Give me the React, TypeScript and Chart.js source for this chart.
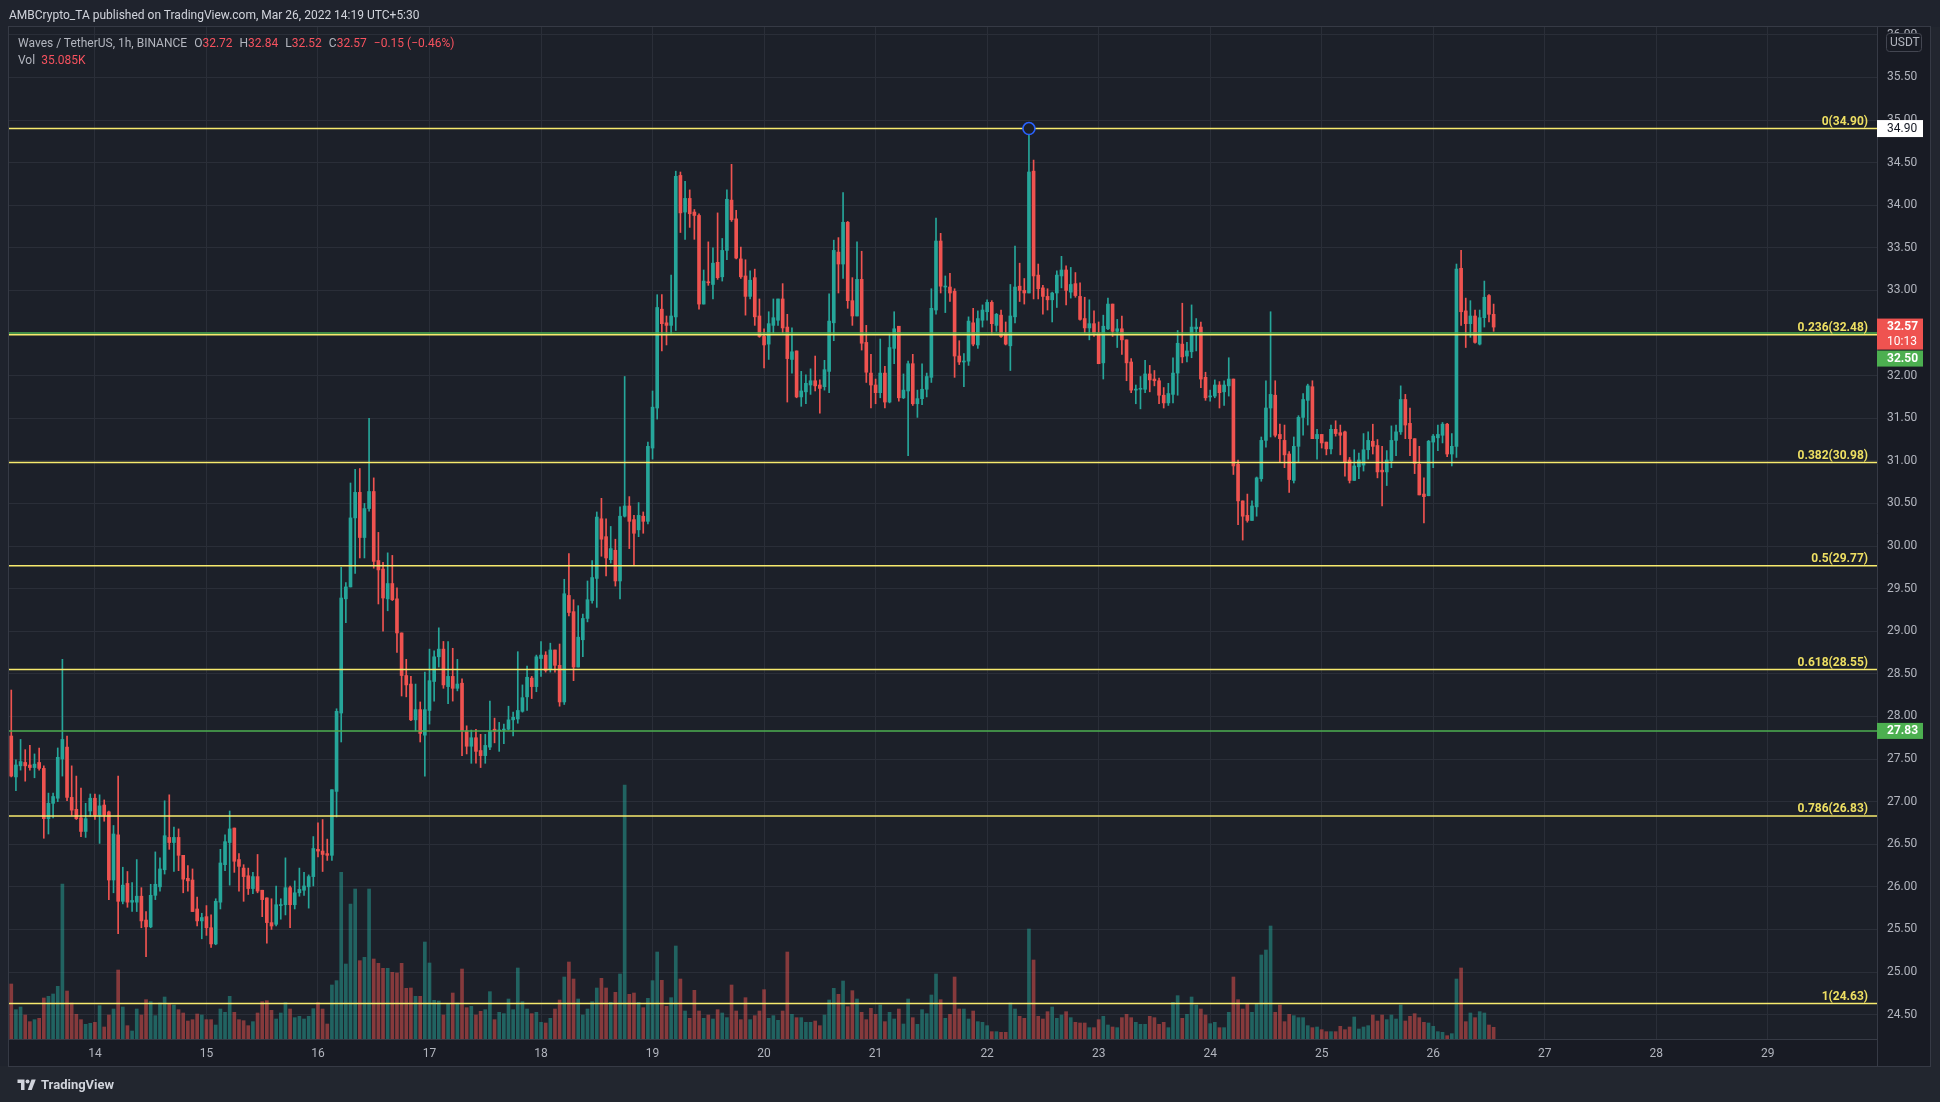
import React, { useEffect, useRef } from 'react';
import { Chart, registerables } from 'chart.js';

Chart.register(...registerables);

// ---------------- DATA (1h candles, Mar 13 06:00 → Mar 26 13:00) ----------------
const opens = [
  27.77,27.29,27.42,27.46,27.43,27.40,27.46,27.39,26.80,26.98,
  27.04,27.50,27.64,27.05,26.91,26.81,26.65,26.89,27.04,26.84,
  26.96,26.88,26.08,26.61,25.83,26.04,25.82,25.82,25.89,25.61,
  25.53,25.90,26.00,26.20,26.58,26.52,26.58,26.37,26.10,26.08,
  25.74,25.60,25.65,25.52,25.33,25.82,26.26,26.52,26.69,26.32,
  26.22,26.13,25.98,26.12,25.96,25.87,25.58,25.56,25.78,25.79,
  25.99,25.79,25.93,25.96,26.00,26.12,26.44,26.42,26.39,26.37,
  27.12,28.04,29.38,29.52,30.33,30.63,30.10,30.44,30.64,29.83,
  29.73,29.38,29.56,29.38,28.98,28.48,28.38,27.96,28.08,27.78,
  28.07,28.41,28.70,28.79,28.35,28.47,28.33,28.39,27.83,27.65,
  27.75,27.60,27.54,27.64,27.85,27.83,27.84,27.85,27.96,27.97,
  28.06,28.23,28.45,28.35,28.68,28.72,28.55,28.78,28.60,28.17,
  29.42,29.23,28.58,28.90,29.15,29.36,29.62,30.32,30.11,29.84,
  29.95,29.59,30.35,30.47,30.31,30.19,30.35,30.29,31.15,31.62,
  32.78,32.62,32.59,32.69,34.35,33.92,34.08,33.92,33.88,32.84,
  33.10,33.07,33.33,33.16,33.47,34.06,33.84,33.37,33.17,32.93,
  33.15,32.70,32.46,32.37,32.59,32.65,32.90,32.57,32.19,32.29,
  31.75,31.81,31.89,31.94,31.89,31.87,32.05,32.62,33.45,33.31,
  33.80,32.88,32.70,33.13,32.39,32.03,31.89,31.80,32.03,31.69,
  32.32,32.58,31.74,31.82,32.14,31.67,31.73,31.84,31.98,32.77,
  33.58,33.04,33.04,32.99,32.23,32.16,32.17,32.62,32.36,32.65,
  32.75,32.86,32.59,32.71,32.50,32.35,32.69,33.05,33.00,32.97,
  34.40,33.18,33.03,32.93,32.89,32.97,33.17,33.24,32.98,33.08,
  32.93,32.67,32.56,32.61,32.50,32.15,32.55,32.84,32.52,32.55,
  32.42,32.16,31.83,31.84,31.84,32.02,31.96,31.94,31.77,31.68,
  31.78,32.03,32.37,32.23,32.28,32.55,32.57,31.98,31.75,31.76,
  31.89,31.81,31.88,31.96,30.96,30.53,30.36,30.30,30.46,30.79,
  31.24,31.62,31.77,31.31,31.24,31.08,30.77,31.17,31.51,31.71,
  31.87,31.26,31.31,31.22,31.14,31.37,31.33,31.34,31.01,30.77,
  30.93,30.95,31.13,31.23,31.18,30.89,30.87,31.00,31.24,31.34,
  31.72,31.44,31.26,30.96,30.61,30.59,31.22,31.27,31.30,31.43,
  31.08,31.17,33.26,32.76,32.61,32.70,32.37,32.68,32.94,32.72,
];

const highs = [
  28.31,27.49,27.73,27.61,27.66,27.56,27.63,27.42,27.10,27.10,
  27.63,28.67,27.77,27.42,27.30,27.16,26.98,27.09,27.09,27.08,
  27.02,26.89,26.72,27.30,26.23,26.18,26.05,26.32,25.99,25.71,
  26.03,26.41,26.34,27.01,27.08,26.70,26.68,26.37,26.25,26.21,
  25.88,25.69,25.78,25.67,25.86,26.44,26.61,26.89,26.69,26.39,
  26.26,26.22,26.17,26.38,25.96,25.87,25.86,26.01,25.86,26.34,
  26.01,26.07,26.22,26.17,26.14,26.59,26.75,26.79,26.56,27.14,
  28.09,29.75,29.57,30.74,30.90,30.91,30.50,31.50,30.80,30.16,
  29.81,29.92,29.89,29.51,28.98,28.67,28.47,28.38,28.17,28.52,
  28.79,28.77,29.04,28.88,28.88,28.80,28.67,28.44,27.89,27.84,
  27.85,27.79,27.79,28.18,27.98,27.93,27.91,28.12,28.05,28.76,
  28.37,28.59,28.47,28.72,28.88,28.76,28.86,28.78,28.85,29.61,
  29.91,29.37,29.30,29.20,29.59,29.83,30.40,30.56,30.32,30.23,
  30.08,30.46,31.99,30.58,30.36,30.51,30.40,31.22,31.82,32.95,
  32.95,32.70,33.18,34.40,34.39,34.28,34.18,33.95,33.90,33.24,
  33.57,33.50,33.91,33.61,34.18,34.48,33.94,33.51,33.36,33.23,
  33.25,32.90,32.55,32.75,32.90,32.90,33.08,32.72,32.56,32.29,
  32.05,32.01,32.08,32.23,31.95,32.18,32.96,33.59,33.62,34.15,
  33.81,33.15,33.57,33.46,32.59,32.25,31.96,32.43,32.11,32.49,
  32.75,32.58,32.02,32.17,32.25,31.83,32.14,32.03,33.02,33.85,
  33.67,33.17,33.20,33.02,32.41,32.26,32.69,32.79,32.76,32.83,
  32.89,32.88,32.73,32.77,32.63,33.07,33.52,33.32,33.14,34.90,
  34.53,33.31,33.06,33.02,32.98,33.23,33.40,33.29,33.27,33.21,
  33.09,32.92,32.89,32.76,32.63,32.71,32.91,32.84,32.66,32.70,
  32.42,32.20,31.89,31.99,32.18,32.12,32.06,31.97,31.86,31.91,
  32.21,32.53,32.85,32.39,32.83,32.67,32.63,32.04,31.83,31.95,
  31.93,31.94,32.21,31.96,31.01,30.53,30.61,30.53,30.81,31.28,
  31.94,32.75,31.94,31.43,31.42,31.11,31.28,31.53,31.79,31.90,
  31.94,31.37,31.31,31.22,31.42,31.47,31.42,31.35,31.04,31.13,
  31.09,31.32,31.34,31.43,31.25,31.17,31.12,31.41,31.42,31.88,
  31.78,31.62,31.26,31.17,30.80,31.24,31.31,31.42,31.45,31.44,
  31.32,33.31,33.47,32.91,32.88,32.77,32.77,33.11,32.95,32.84,
];

const lows = [
  27.29,27.13,27.37,27.24,27.37,27.28,27.37,26.57,26.62,26.81,
  27.00,27.30,27.01,26.84,26.79,26.59,26.58,26.83,26.79,26.51,
  26.77,25.85,25.93,25.45,25.80,25.76,25.71,25.71,25.52,25.18,
  25.52,25.85,25.95,26.15,26.44,26.18,26.19,25.93,25.95,25.71,
  25.54,25.39,25.43,25.29,25.32,25.74,26.19,26.02,26.17,25.95,
  25.83,25.91,25.92,25.93,25.65,25.34,25.50,25.54,25.62,25.67,
  25.52,25.74,25.89,25.90,25.75,26.01,26.35,26.18,26.31,26.31,
  26.82,27.70,29.10,29.52,29.68,29.86,29.86,30.41,29.74,29.32,
  29.00,29.24,29.36,28.75,28.24,28.23,27.95,27.83,27.70,27.30,
  27.91,28.18,28.58,28.33,28.15,28.18,28.30,27.54,27.56,27.45,
  27.45,27.40,27.45,27.61,27.69,27.59,27.68,27.84,27.77,27.92,
  28.05,28.07,28.21,28.29,28.47,28.52,28.52,28.52,28.12,28.14,
  29.18,28.42,28.58,28.70,29.11,29.33,29.28,29.88,29.65,29.80,
  29.53,29.38,30.34,29.97,29.77,30.11,30.15,30.26,31.02,31.49,
  32.29,32.36,32.48,32.53,33.68,33.60,33.74,33.60,32.78,32.84,
  33.06,32.90,33.13,33.11,33.36,33.81,33.37,33.14,32.71,32.90,
  32.59,32.45,32.09,32.19,32.50,32.59,32.50,31.69,32.03,31.74,
  31.64,31.67,31.78,31.82,31.56,31.83,31.80,32.41,32.97,33.14,
  32.79,32.59,32.70,32.30,31.92,31.62,31.67,31.74,31.62,31.68,
  32.14,31.70,31.73,31.06,31.65,31.51,31.66,31.75,31.92,32.72,
  32.97,32.74,32.87,31.98,32.13,31.87,32.12,32.35,32.32,32.57,
  32.65,32.48,32.52,32.45,32.36,32.06,32.62,32.87,32.84,32.97,
  32.90,32.90,32.72,32.77,32.63,32.80,33.03,32.83,32.91,32.92,
  32.65,32.50,32.42,32.46,32.14,31.96,32.54,32.46,32.33,32.25,
  31.94,31.80,31.67,31.61,31.80,31.81,31.88,31.67,31.62,31.65,
  31.68,31.77,32.15,32.16,32.21,32.29,31.86,31.71,31.70,31.74,
  31.62,31.65,31.76,30.84,30.25,30.07,30.28,30.30,30.35,30.76,
  31.16,31.28,31.28,30.99,30.92,30.63,30.74,30.98,31.30,31.42,
  31.26,31.02,31.15,31.07,31.08,31.29,31.07,30.82,30.74,30.77,
  30.79,30.88,31.02,31.08,30.80,30.47,30.71,30.92,31.06,31.31,
  31.26,31.06,30.85,30.60,30.27,30.59,30.92,31.12,31.21,31.05,
  30.94,31.04,32.59,32.33,32.45,32.38,32.36,32.57,32.63,32.52,
];

const closes = [
  27.30,27.43,27.47,27.42,27.40,27.44,27.39,26.80,26.98,27.06,
  27.52,27.73,27.05,26.90,26.80,26.65,26.80,27.04,26.84,26.95,
  26.84,26.08,26.62,25.83,26.02,25.82,25.84,25.89,25.60,25.53,
  25.90,26.03,26.21,26.60,26.52,26.58,26.37,26.09,26.07,25.71,
  25.60,25.64,25.52,25.33,25.83,26.28,26.53,26.68,26.30,26.24,
  26.12,25.98,26.12,25.95,25.85,25.58,25.54,25.79,25.79,25.99,
  25.79,25.93,25.97,26.01,26.12,26.45,26.42,26.38,26.37,27.14,
  28.06,29.39,29.52,30.33,30.63,30.10,30.44,30.64,29.82,29.72,
  29.39,29.56,29.37,28.98,28.48,28.37,27.96,28.08,27.80,28.08,
  28.42,28.70,28.79,28.37,28.47,28.33,28.38,27.83,27.65,27.75,
  27.59,27.54,27.66,27.83,27.83,27.84,27.85,27.96,27.99,28.07,
  28.22,28.46,28.35,28.70,28.72,28.54,28.78,28.60,28.17,29.44,
  29.22,28.58,28.93,29.15,29.37,29.63,30.34,30.08,29.86,29.97,
  29.59,30.35,30.47,30.29,30.15,30.36,30.29,31.17,31.63,32.80,
  32.61,32.59,32.70,34.34,33.91,34.08,33.90,33.88,32.84,33.11,
  33.09,33.32,33.15,33.47,34.07,33.83,33.38,33.16,32.93,33.12,
  32.69,32.46,32.36,32.61,32.68,32.90,32.56,32.20,32.28,31.75,
  31.82,31.91,31.94,31.88,31.85,32.07,32.64,33.47,33.31,33.80,
  32.88,32.70,33.13,32.38,32.04,31.89,31.80,32.03,31.69,32.33,
  32.55,31.74,31.83,32.14,31.67,31.73,31.84,31.99,32.79,33.58,
  33.05,33.05,32.97,32.23,32.16,32.17,32.64,32.37,32.67,32.77,
  32.86,32.61,32.72,32.46,32.37,32.70,33.04,33.00,32.97,34.39,
  33.17,33.02,32.93,32.89,32.97,33.18,33.24,33.00,33.07,32.94,
  32.66,32.56,32.61,32.50,32.14,32.58,32.84,32.52,32.55,32.42,
  32.15,31.83,31.84,31.85,32.02,31.95,31.94,31.77,31.68,31.79,
  32.03,32.38,32.22,32.29,32.57,32.57,31.96,31.74,31.76,31.89,
  31.80,31.89,31.96,30.94,30.53,30.35,30.30,30.47,30.80,31.24,
  31.62,31.78,31.30,31.26,31.07,30.78,31.17,31.51,31.72,31.88,
  31.26,31.31,31.21,31.14,31.37,31.32,31.30,30.98,30.77,30.94,
  31.01,31.13,31.24,31.17,30.87,30.87,31.01,31.24,31.34,31.72,
  31.42,31.26,30.97,30.60,30.58,31.23,31.29,31.31,31.43,31.08,
  31.17,33.25,32.75,32.61,32.70,32.39,32.68,32.92,32.72,32.57,
];

// volume in thousands
const volumesK = [
  165,88,96,72,52,58,62,123,128,135,
  158,465,144,108,74,58,44,47,50,100,
  36,72,90,207,96,40,24,90,72,118,
  112,70,108,126,104,102,88,78,54,58,
  75,72,58,58,42,90,80,128,80,58,
  55,40,52,78,112,115,86,60,78,109,
  90,64,68,60,68,91,109,90,45,162,
  175,500,225,405,450,235,245,450,240,227,
  212,212,200,198,227,152,153,128,128,291,
  228,116,114,72,104,138,108,210,94,98,
  72,83,88,142,58,80,76,120,88,213,
  112,90,76,80,50,48,62,90,117,186,
  231,180,120,72,90,112,153,182,153,110,
  140,195,762,134,138,110,94,122,175,261,
  176,98,124,279,180,84,62,146,84,62,
  72,60,88,78,64,162,84,58,124,58,
  70,84,148,62,70,56,84,261,74,64,
  64,50,50,54,40,72,117,152,134,174,
  97,145,120,80,58,92,74,102,52,80,
  60,90,45,120,64,44,88,76,132,195,
  118,62,74,186,90,90,60,84,52,50,
  40,22,22,20,20,108,90,68,62,330,
  237,68,60,82,96,62,72,82,64,50,
  48,48,34,34,58,68,42,36,34,64,
  74,64,50,44,44,68,64,44,50,34,
  110,130,62,74,126,102,90,72,46,50,
  34,34,80,186,118,90,106,80,106,252,
  267,339,80,102,52,74,70,64,64,40,
  34,36,28,22,22,22,38,28,36,66,
  30,36,40,72,54,72,58,72,60,102,
  54,68,76,64,50,48,38,22,20,10,
  16,180,213,52,78,64,82,78,42,35.085,
];

const fibRatios = ['0', '0.236', '0.382', '0.5', '0.618', '0.786', '1'];
const fibPrices = [34.90, 32.48, 30.98, 29.77, 28.55, 26.83, 24.63];
const greenLevels = [32.50, 27.83];
const dayLabels = ['14','15','16','17','18','19','20','21','22','23','24','25','26','27','28','29'];
const firstMidnightIndex = 18; // candle index of Mar 14 00:00
const candlesPerDay = 24;
const highMarkerIndex = 219;
const highMarkerPrice = 34.90;
const barCountdown = '10:13';

// ---------------- LAYOUT / STYLE ----------------
const W = 1940;
const H = 1102;
const PAD_LEFT = 9;
const PAD_TOP = 27;
const PAD_RIGHT = 10;
const PAD_BOTTOM = 36;
const PRICE_AXIS_W = 53;
const TIME_AXIS_H = 27;
const X_MIN = -0.49;
const X_MAX = 401.5;
const Y_MIN = 24.214;
const Y_MAX = 36.092;
const VOL_MAX = 3036;

const UP = '#26A69A';
const DOWN = '#EF5350';
const UP_VOL = 'rgba(38,166,154,0.5)';
const DOWN_VOL = 'rgba(239,83,80,0.5)';
const FIB_LINE = '#F7EA6E';
const FIB_TEXT = '#EEDF62';
const GREEN = '#4CAF50';
const PANE_BG = '#1C2029';
const FRAME_BG = '#1F232D';
const FOOT_BG = '#22262F';
const AXIS_BG = '#181B24';
const GRID = '#2A2E38';
const BORDER = '#363A45';
const TEXT = '#B2B5BE';
const FONT = "Roboto, 'Liberation Sans', sans-serif";

const dayTickValues = dayLabels.map((_, k) => firstMidnightIndex + k * candlesPerDay);

function roundRect(ctx: CanvasRenderingContext2D, x: number, y: number, w: number, h: number, r: number) {
  ctx.beginPath();
  ctx.moveTo(x + r, y);
  ctx.lineTo(x + w - r, y);
  ctx.quadraticCurveTo(x + w, y, x + w, y + r);
  ctx.lineTo(x + w, y + h - r);
  ctx.quadraticCurveTo(x + w, y + h, x + w - r, y + h);
  ctx.lineTo(x + r, y + h);
  ctx.quadraticCurveTo(x, y + h, x, y + h - r);
  ctx.lineTo(x, y + r);
  ctx.quadraticCurveTo(x, y, x + r, y);
  ctx.closePath();
}

const tvPlugin = {
  id: 'tvLook',
  beforeDraw(chart: any) {
    const { ctx, chartArea: a } = chart;
    ctx.save();
    ctx.fillStyle = FRAME_BG;
    ctx.fillRect(0, 0, W, H);
    ctx.fillStyle = FOOT_BG;
    ctx.fillRect(0, a.bottom + TIME_AXIS_H, W, H - a.bottom - TIME_AXIS_H);
    ctx.fillRect(a.right + PRICE_AXIS_W, a.top, W - a.right - PRICE_AXIS_W, H - a.top);
    ctx.fillStyle = PANE_BG;
    ctx.fillRect(a.left, a.top, a.right - a.left, a.bottom - a.top);
    ctx.fillStyle = AXIS_BG;
    ctx.fillRect(a.right, a.top, PRICE_AXIS_W, a.bottom - a.top + TIME_AXIS_H);
    ctx.fillRect(a.left, a.bottom, a.right - a.left, TIME_AXIS_H);
    ctx.strokeStyle = BORDER;
    ctx.lineWidth = 1;
    ctx.strokeRect(a.left - 0.5, a.top - 0.5, a.right - a.left + PRICE_AXIS_W + 1, a.bottom - a.top + TIME_AXIS_H + 1);
    ctx.beginPath();
    ctx.moveTo(a.right + 0.5, a.bottom);
    ctx.lineTo(a.right + 0.5, a.bottom + TIME_AXIS_H);
    ctx.stroke();
    ctx.restore();
  },
  afterDatasetsDraw(chart: any) {
    const { ctx, chartArea: a, scales } = chart;
    const y = scales.y;
    ctx.save();
    ctx.font = `bold 12px ${FONT}`;
    ctx.textAlign = 'right';
    ctx.textBaseline = 'alphabetic';
    ctx.fillStyle = FIB_TEXT;
    fibPrices.forEach((p, k) => {
      const py = y.getPixelForValue(p);
      ctx.fillText(`${fibRatios[k]}(${p.toFixed(2)})`, a.right - 9, py - 4);
    });
    ctx.restore();
  },
  afterDraw(chart: any) {
    const { ctx, chartArea: a, scales } = chart;
    const y = scales.y;
    const bx = a.right;
    const bw = 46;
    ctx.save();
    ctx.textAlign = 'left';
    ctx.textBaseline = 'middle';

    // USDT unit box
    ctx.fillStyle = AXIS_BG;
    roundRect(ctx, bx + 9.5, a.top + 6.5, 35, 18, 3);
    ctx.fill();
    ctx.strokeStyle = '#434651';
    ctx.stroke();
    ctx.fillStyle = TEXT;
    ctx.font = `12px ${FONT}`;
    ctx.fillText('USDT', bx + 13, a.top + 16);

    // fib 0 (high) label
    const yHigh = y.getPixelForValue(fibPrices[0]);
    ctx.fillStyle = '#FFFFFF';
    ctx.fillRect(bx, yHigh - 8.5, bw, 17);
    ctx.fillStyle = '#131722';
    ctx.font = `12px ${FONT}`;
    ctx.fillText(fibPrices[0].toFixed(2), bx + 10, yHigh);

    // last price + countdown
    const last = closes[closes.length - 1];
    const lastUp = last >= opens[opens.length - 1];
    const yLast = y.getPixelForValue(last);
    const redTop = yLast - 8.5;
    ctx.fillStyle = lastUp ? UP : DOWN;
    ctx.fillRect(bx, redTop, bw, 31);
    ctx.fillStyle = '#FFFFFF';
    ctx.font = `bold 12px ${FONT}`;
    ctx.fillText(last.toFixed(2), bx + 10, yLast);
    ctx.font = `12px ${FONT}`;
    ctx.fillText(barCountdown, bx + 10, yLast + 15);

    // green horizontal line labels
    ctx.font = `bold 12px ${FONT}`;
    greenLevels.forEach((lv, k) => {
      const py = y.getPixelForValue(lv);
      const top = k === 0 ? redTop + 32 : py - 8;
      ctx.fillStyle = GREEN;
      ctx.fillRect(bx, top, bw, 16);
      ctx.fillStyle = '#FFFFFF';
      ctx.fillText(lv.toFixed(2), bx + 10, top + 8);
    });
    ctx.restore();
  },
};

export default function App() {
  const canvasRef = useRef<HTMLCanvasElement | null>(null);

  useEffect(() => {
    document.body.style.margin = '0';
    document.body.style.background = FRAME_BG;
    const canvas = canvasRef.current;
    if (!canvas) return;

    const upFlags = closes.map((c, i) => c >= opens[i]);
    const candleColors = upFlags.map((u) => (u ? UP : DOWN));
    const volColors = upFlags.map((u) => (u ? UP_VOL : DOWN_VOL));

    const levelLine = (price: number, color: string) => ({
      type: 'line' as const,
      data: [{ x: X_MIN, y: price }, { x: X_MAX, y: price }],
      borderColor: color,
      borderWidth: 1.5,
      pointRadius: 0,
      yAxisID: 'y',
      xAxisID: 'x',
      order: 1,
    });

    const datasets: any[] = [
      {
        type: 'line',
        data: [{ x: highMarkerIndex, y: highMarkerPrice }],
        showLine: false,
        pointRadius: 6,
        pointBorderWidth: 1.6,
        pointBorderColor: '#2962FF',
        pointBackgroundColor: PANE_BG,
        yAxisID: 'y',
        xAxisID: 'x',
        order: 0,
      },
      ...fibPrices.map((p) => levelLine(p, FIB_LINE)),
      ...greenLevels.map((p) => levelLine(p, GREEN)),
      {
        type: 'bar',
        data: opens.map((o, i) => ({ x: i, y: [o, closes[i]] })),
        backgroundColor: candleColors,
        barThickness: 3,
        minBarLength: 1,
        grouped: false,
        yAxisID: 'y',
        xAxisID: 'x',
        order: 2,
      },
      {
        type: 'bar',
        data: lows.map((l, i) => ({ x: i, y: [l, highs[i]] })),
        backgroundColor: candleColors,
        barThickness: 1,
        grouped: false,
        yAxisID: 'y',
        xAxisID: 'x',
        order: 3,
      },
      {
        type: 'bar',
        data: volumesK.map((v, i) => ({ x: i, y: v })),
        backgroundColor: volColors,
        barThickness: 3,
        grouped: false,
        yAxisID: 'yv',
        xAxisID: 'x',
        order: 4,
      },
    ];

    Chart.defaults.font.family = FONT;

    const chart = new Chart(canvas, {
      type: 'bar',
      data: { datasets },
      options: {
        responsive: false,
        animation: false,
        devicePixelRatio: 1,
        events: [],
        layout: { padding: { left: PAD_LEFT, right: PAD_RIGHT, top: PAD_TOP, bottom: PAD_BOTTOM } },
        plugins: { legend: { display: false }, tooltip: { enabled: false } },
        scales: {
          x: {
            type: 'linear',
            min: X_MIN,
            max: X_MAX,
            offset: false,
            afterBuildTicks: (s: any) => {
              s.ticks = dayTickValues.map((v) => ({ value: v }));
            },
            afterFit: (s: any) => {
              s.height = TIME_AXIS_H;
            },
            grid: { color: GRID, drawTicks: false, offset: false },
            border: { color: BORDER },
            ticks: {
              autoSkip: false,
              maxRotation: 0,
              padding: 8,
              color: TEXT,
              font: { size: 12, family: FONT },
              callback: (v: any) => {
                const k = dayTickValues.indexOf(Number(v));
                return k >= 0 ? dayLabels[k] : '';
              },
            },
          },
          y: {
            type: 'linear',
            position: 'right',
            min: Y_MIN,
            max: Y_MAX,
            afterFit: (s: any) => {
              s.width = PRICE_AXIS_W;
            },
            grid: { color: GRID, drawTicks: false },
            border: { color: BORDER },
            ticks: {
              stepSize: 0.5,
              includeBounds: false,
              padding: 10,
              color: TEXT,
              font: { size: 12, family: FONT },
              callback: (v: any) => Number(v).toFixed(2),
            },
          },
          yv: {
            type: 'linear',
            display: false,
            min: 0,
            max: VOL_MAX,
          },
        },
      } as any,
      plugins: [tvPlugin],
    });

    return () => chart.destroy();
  }, []);

  const n = closes.length;
  const lastO = opens[n - 1];
  const lastH = highs[n - 1];
  const lastL = lows[n - 1];
  const lastC = closes[n - 1];
  const chg = lastC - closes[n - 2];
  const pct = (chg / closes[n - 2]) * 100;
  const sign = (v: number) => (v < 0 ? '\u2212' : '+') + Math.abs(v).toFixed(2);
  const valColor = chg < 0 ? '#F7525F' : UP;
  const lbl = { color: TEXT };
  const val = { color: valColor };

  return (
    <div style={{ position: 'relative', width: W, height: H, overflow: 'hidden', background: FRAME_BG, fontFamily: FONT }}>
      <canvas ref={canvasRef} width={W} height={H} style={{ position: 'absolute', left: 0, top: 0, width: W, height: H }} />
      <div style={{ position: 'absolute', left: 9, top: 7, fontSize: 12, lineHeight: '16px', color: '#D1D4DC', whiteSpace: 'nowrap' }}>
        AMBCrypto_TA published on TradingView.com, Mar 26, 2022 14:19 UTC+5:30
      </div>
      <div style={{ position: 'absolute', left: 18, top: 35, fontSize: 12, lineHeight: '16px', whiteSpace: 'nowrap' }}>
        <span style={lbl}>Waves / TetherUS, 1h, BINANCE</span>
        <span style={{ ...lbl, marginLeft: 7 }}>O</span><span style={val}>{lastO.toFixed(2)}</span>
        <span style={{ ...lbl, marginLeft: 7 }}>H</span><span style={val}>{lastH.toFixed(2)}</span>
        <span style={{ ...lbl, marginLeft: 7 }}>L</span><span style={val}>{lastL.toFixed(2)}</span>
        <span style={{ ...lbl, marginLeft: 7 }}>C</span><span style={val}>{lastC.toFixed(2)}</span>
        <span style={{ ...val, marginLeft: 7 }}>{sign(chg)} ({sign(pct)}%)</span>
      </div>
      <div style={{ position: 'absolute', left: 18, top: 52, fontSize: 12, lineHeight: '16px', whiteSpace: 'nowrap' }}>
        <span style={lbl}>Vol</span>
        <span style={{ ...val, marginLeft: 6 }}>{volumesK[n - 1].toFixed(3)}K</span>
      </div>
      <div style={{ position: 'absolute', left: 17, top: 1077, display: 'flex', alignItems: 'center', gap: 5, color: '#D1D4DC', fontSize: 13, fontWeight: 'bold' }}>
        <svg width="19" height="13" viewBox="0 0 36 26">
          <path d="M14 24H7V10H0V3h14v21z" fill="#D1D4DC" />
          <circle cx="20" cy="7" r="4" fill="#D1D4DC" />
          <path d="M28.5 24h-8l7.5-21h8.5L28.5 24z" fill="#D1D4DC" />
        </svg>
        <span>TradingView</span>
      </div>
    </div>
  );
}
